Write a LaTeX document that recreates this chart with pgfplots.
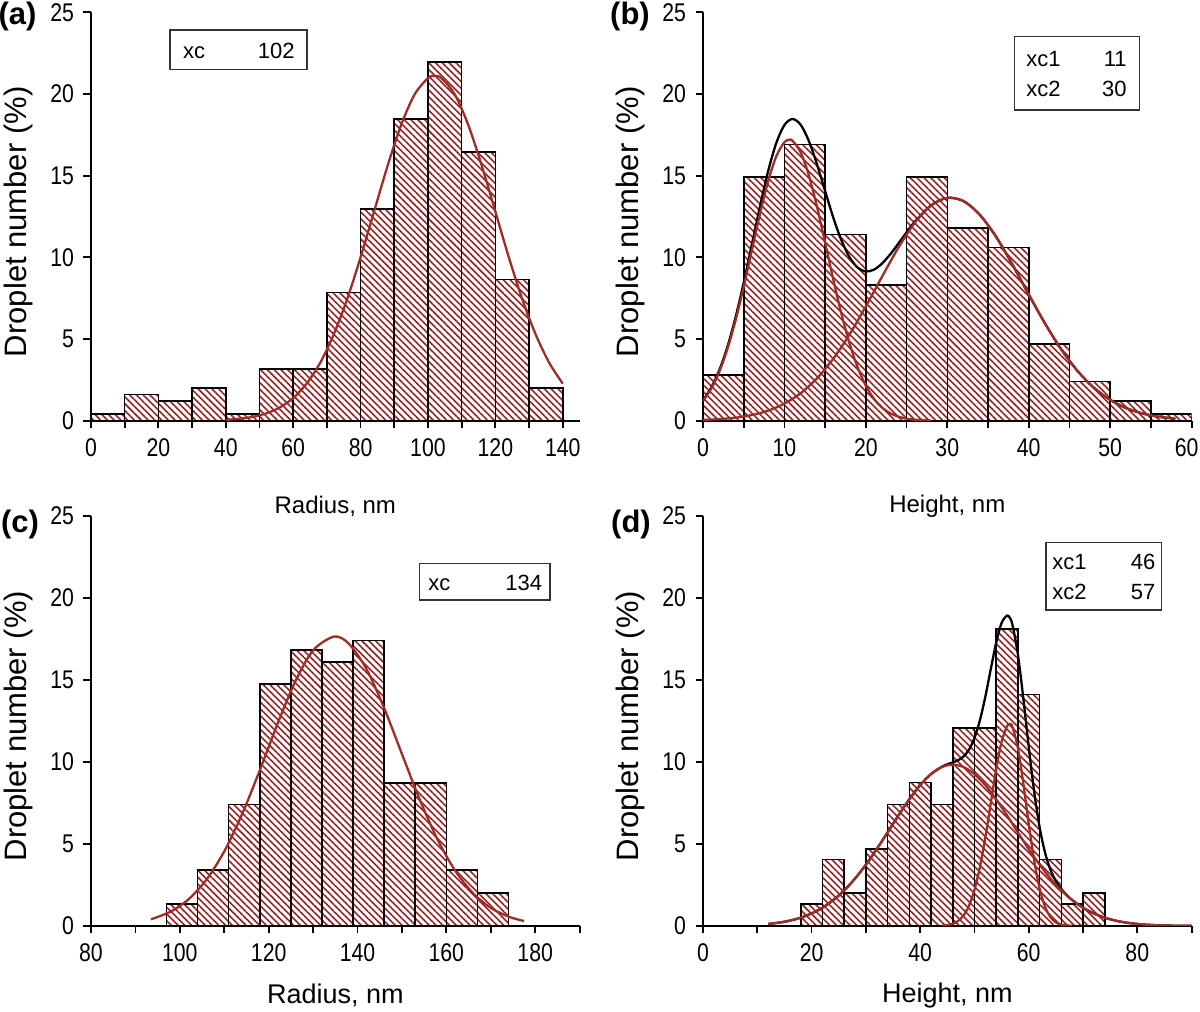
\documentclass[border=0pt]{standalone}
\usepackage{fontspec}
\setmainfont{Liberation Sans}
\newfontfamily\narrowfont{Liberation Sans}[FakeStretch=0.83]
\usepackage{pgfplots}
\pgfplotsset{compat=1.18}
\usetikzlibrary{patterns.meta}
\definecolor{hatch}{RGB}{150,36,36}
\definecolor{fitred}{RGB}{160,44,40}
\pgfplotsset{
  panel/.style={
    scale only axis, width=244.3pt,
    axis x line*=bottom, axis y line*=left,
    axis line style={line width=1pt, black},
    tick style={line width=0.9pt, black},
    tick align=outside,
    major tick length=3.75pt, minor tick length=3.75pt,
    ymin=0, ymax=25, ytick={0,5,...,25},
    /pgf/number format/assume math mode=true,
    ticklabel style={font=\narrowfont\fontsize{12.8}{14}\selectfont},
    yticklabel style={xshift=-1.2pt},
    xticklabel style={yshift=-1.6pt},
    ylabel={Droplet number (\%)},
    ylabel style={font=\fontsize{15.5}{18}\selectfont, at={(axis description cs:-0.149,0.487)}, anchor=center},
  },
  toplab/.style={xlabel style={font=\fontsize{12}{14}\selectfont, at={(axis description cs:0.5,-0.2105)}, anchor=center}},
  botlab/.style={xlabel style={font=\fontsize{13.5}{16}\selectfont, at={(axis description cs:0.5,-0.169)}, anchor=center}},
  bars/.style={ybar interval, draw=black, line width=0.8pt,
    pattern={Lines[angle=-45,distance=2.4pt,line width=0.8pt]}, pattern color=hatch},
  fit/.style={fitred, line width=1.15pt, smooth, mark=none},
  sumfit/.style={black, line width=1.15pt, smooth, mark=none},
}
\begin{document}
\begin{tikzpicture}
% ---------------- (a)
\begin{axis}[panel, toplab, at={(45.5pt,295.65pt)}, anchor=south west, height=204.2pt,
  xmin=0, xmax=145, xtick={0,20,...,140}, minor xtick={10,30,...,130},
  xlabel={Radius, nm}]
\addplot[bars] coordinates {(0,0.4) (10,1.6) (20,1.2) (30,2.0) (40,0.4) (50,3.15) (60,3.15) (70,7.85) (80,12.95) (90,18.45) (100,21.95) (110,16.45) (120,8.65) (130,2.0) (140,2.0)};
\addplot[fit] coordinates {(40,0.056)(44,0.117)(48,0.234)(52,0.445)(56,0.806)(60,1.386)(64,2.27)(68,3.54)(72,5.26)(76,7.43)(80,10.0)(84,12.80)(88,15.59)(92,18.08)(96,19.96)(100,20.97)(102,21.1)(104,20.97)(108,19.96)(112,18.08)(116,15.59)(120,12.80)(124,10.0)(128,7.43)(132,5.26)(136,3.54)(140,2.27)};
\end{axis}
% ---------------- (b)
\begin{axis}[panel, toplab, at={(351.5pt,295.65pt)}, anchor=south west, height=204.2pt,
  xmin=0, xmax=60, xtick={0,10,...,60}, minor xtick={5,15,...,55},
  xticklabels={0,10,20,30,40,50,\hspace*{-5pt}60},
  xlabel={Height, nm}]
\addplot[bars] coordinates {(0,2.8)(5,14.9)(10,16.9)(15,11.4)(20,8.3)(25,14.9)(30,11.8)(35,10.6)(40,4.7)(45,2.4)(50,1.2)(55,0.4)(60,0.4)};
\addplot[sumfit] coordinates {(0,1.254)(1,2.015)(2,3.089)(3,4.526)(4,6.331)(5,8.453)(6,10.78)(7,13.12)(8,15.28)(9,17.00)(10,18.10)(11,18.47)(12,18.11)(13,17.12)(14,15.69)(15,14.05)(16,12.43)(17,11.04)(18,10.00)(19,9.366)(20,9.134)(21,9.247)(22,9.628)(23,10.19)(24,10.85)(25,11.53)(26,12.17)(28,13.18)(30,13.64)(32,13.44)(34,12.60)(36,11.25)(38,9.555)(40,7.727)(42,5.949)(44,4.358)(46,3.039)(48,2.017)(50,1.275)(52,0.766)(54,0.438)(56,0.239)(58,0.124)};
\addplot[fit] coordinates {(0,1.209)(1,1.949)(2,2.995)(3,4.393)(4,6.146)(5,8.198)(6,10.43)(7,12.66)(8,14.66)(9,16.19)(10,17.05)(10.6,17.2)(11,17.13)(12,16.42)(13,15.01)(14,13.09)(15,10.89)(16,8.636)(17,6.534)(18,4.716)(19,3.247)(20,2.133)(21,1.335)(22,0.798)(23,0.455)(24,0.247)(25,0.128)(26,0.063)(28,0.013)};
\addplot[fit] coordinates {(0,0.045)(2,0.094)(4,0.185)(6,0.346)(8,0.617)(10,1.046)(12,1.688)(14,2.595)(16,3.795)(18,5.284)(20,7.001)(22,8.830)(24,10.60)(26,12.11)(28,13.17)(30,13.64)(32,13.44)(34,12.60)(36,11.25)(38,9.555)(40,7.727)(42,5.949)(44,4.358)(46,3.039)(48,2.017)(50,1.275)(52,0.766)(54,0.438)(56,0.239)(58,0.124)};
\end{axis}
% ---------------- (c)
\begin{axis}[panel, botlab, at={(45.5pt,43pt)}, anchor=south west, height=205.2pt,
  xmin=80, xmax=190, xtick={80,100,...,180}, minor xtick={90,110,...,190},
  xlabel={Radius, nm}]
\addplot[bars] coordinates {(97,1.35)(104,3.4)(111,7.4)(118,14.75)(125,16.8)(132,16.1)(139,17.4)(146,8.7)(153,8.7)(160,3.4)(167,2.0)(174,2.0)};
\addplot[fit] coordinates {(93.5,0.406)(98,0.884)(102,1.638)(106,2.828)(110,4.544)(114,6.804)(118,9.485)(122,12.32)(126,14.90)(130,16.79)(134.7,17.63)(138,17.21)(142,15.66)(146,13.27)(150,10.48)(154,7.704)(158,5.277)(162,3.366)(166,1.999)(170,1.106)(174,0.570)(177.5,0.301)};
\end{axis}
% ---------------- (d)
\begin{axis}[panel, botlab, at={(351.5pt,43pt)}, anchor=south west, height=205.2pt,
  xmin=0, xmax=90, xtick={0,20,...,80}, minor xtick={10,30,...,90},
  xlabel={Height, nm}]
\addplot[bars] coordinates {(18,1.35)(22,4.05)(26,2.0)(30,4.7)(34,7.4)(38,8.75)(42,7.4)(46,12.05)(50,12.05)(54,18.1)(58,14.1)(62,4.05)(66,1.35)(70,2.0)(74,2.0)};
\addplot[sumfit] coordinates {(12,0.124)(14,0.205)(16,0.327)(18,0.507)(20,0.763)(22,1.114)(24,1.577)(26,2.167)(28,2.888)(30,3.734)(32,4.685)(34,5.703)(36,6.735)(38,7.718)(40,8.580)(42,9.253)(44,9.703)(45,9.849)(46,9.967)(47,10.10)(48,10.33)(49,10.74)(50,11.45)(51,12.52)(52,13.96)(53,15.63)(54,17.25)(55,18.46)(56,18.91)(56.5,18.78)(57,18.35)(58,16.55)(59,13.88)(60,10.91)(61,8.193)(62,6.025)(63,4.472)(64,3.428)(65,2.733)(66,2.249)(67,1.886)(68,1.585)(70,1.114)(72,0.763)(74,0.507)(76,0.327)(78,0.205)(80,0.124)(82,0.073)(84,0.042)(86,0.023)(88,0.012)(90,0.0065)};
\addplot[fit] coordinates {(12,0.124)(14,0.205)(16,0.327)(18,0.507)(20,0.763)(22,1.114)(24,1.577)(26,2.167)(28,2.888)(30,3.734)(32,4.685)(34,5.703)(36,6.735)(38,7.718)(40,8.580)(42,9.253)(44,9.682)(46,9.83)(48,9.682)(50,9.253)(52,8.580)(54,7.718)(56,6.735)(58,5.703)(60,4.685)(62,3.734)(64,2.888)(66,2.167)(68,1.577)(70,1.114)(72,0.763)(74,0.507)(76,0.327)(78,0.205)(80,0.124)(82,0.073)(84,0.042)(86,0.023)(88,0.012)(90,0.0065)};
\addplot[fit] coordinates {(44,0.021)(45,0.056)(46,0.137)(47,0.309)(48,0.644)(49,1.238)(50,2.193)(51,3.578)(52,5.382)(53,7.460)(54,9.530)(55,11.22)(56,12.17)(56.5,12.3)(57,12.13)(58,10.85)(59,8.691)(60,6.228)(61,3.994)(62,2.291)(63,1.176)(64,0.540)(65,0.222)(66,0.082)(68,0.008)};
\end{axis}
% ---------------- fit parameter boxes
\begin{scope}[every node/.style={inner sep=0pt, font=\fontsize{11}{13}\selectfont}]
\draw[line width=0.6pt, black!80] (85pt,471.35pt) rectangle (153.5pt,491pt);
\node[anchor=base west] at (91.3pt,476.85pt) {xc};
\node[anchor=base east] at (147.5pt,476.85pt) {102};
\draw[line width=0.6pt, black!80] (507.3pt,451pt) rectangle (569.8pt,487.65pt);
\node[anchor=base west] at (513pt,472.7pt) {xc1};
\node[anchor=base east] at (563.5pt,472.7pt) {11};
\node[anchor=base west] at (513pt,457.7pt) {xc2};
\node[anchor=base east] at (563.5pt,457.7pt) {30};
\draw[line width=0.6pt, black!80] (209.6pt,206pt) rectangle (275pt,224.35pt);
\node[anchor=base west] at (214pt,210.7pt) {xc};
\node[anchor=base east] at (271.2pt,210.7pt) {134};
\draw[line width=0.6pt, black!80] (523pt,201pt) rectangle (580.8pt,234.7pt);
\node[anchor=base west] at (526pt,221pt) {xc1};
\node[anchor=base east] at (577.9pt,221pt) {46};
\node[anchor=base west] at (526pt,206pt) {xc2};
\node[anchor=base east] at (577.9pt,206pt) {57};
\end{scope}
% ---------------- panel letters
\begin{scope}[every node/.style={inner sep=0pt, font=\bfseries\fontsize{15.5}{18}\selectfont}]
\node at (8.75pt,497.65pt) {(a)};
\node at (315pt,497.65pt) {(b)};
\node at (10pt,244pt) {(c)};
\node at (315.5pt,244pt) {(d)};
\end{scope}
\pgfresetboundingbox
\path[use as bounding box] (0,0) rectangle (600pt,506pt);
\end{tikzpicture}
\end{document}
